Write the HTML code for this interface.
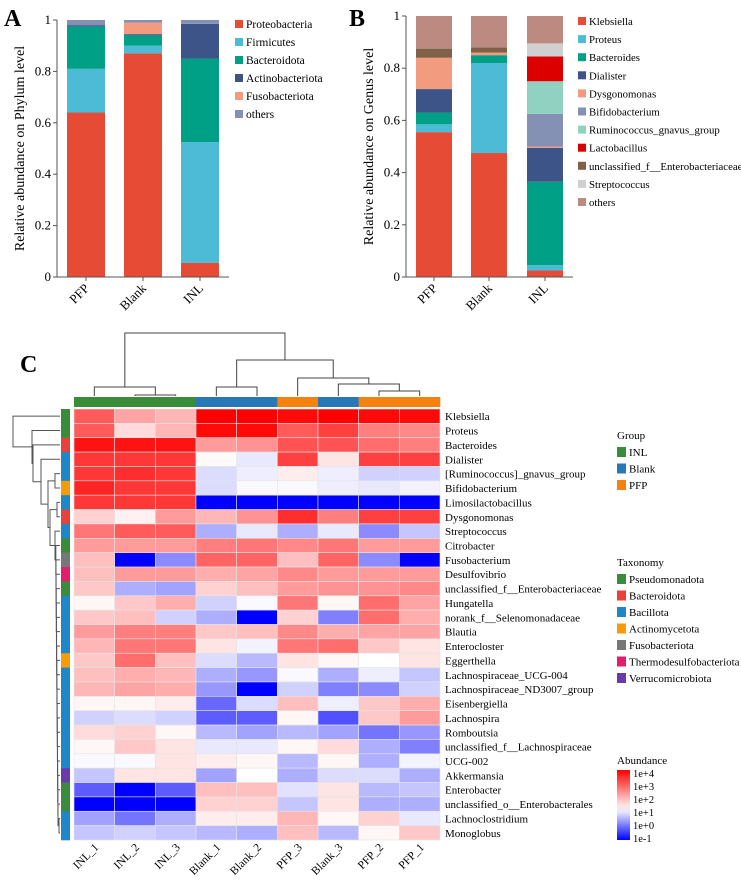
<!DOCTYPE html>
<html><head><meta charset="utf-8">
<style>
body{margin:0;background:#fff;}
svg{display:block;font-family:"Liberation Serif",serif;}
</style></head>
<body>
<svg id="s" width="741" height="882" viewBox="0 0 741 882" xmlns="http://www.w3.org/2000/svg"></svg>
<script>
// ---------- Chart A data ----------
const aGroups=["PFP","Blank","INL"];
const aTaxa=["Proteobacteria","Firmicutes","Bacteroidota","Actinobacteriota","Fusobacteriota","others"];
const aPFP=[0.64,0.17,0.165,0.005,0,0.02];
const aBlank=[0.87,0.03,0.04,0.005,0.045,0.01];
const aINL=[0.055,0.47,0.325,0.135,0,0.015];
const aColors=["#e64b35","#4dbbd5","#00a087","#3c5488","#f39b7f","#8491b4"];
// ---------- Chart B data ----------
const bTaxa=["Klebsiella","Proteus","Bacteroides","Dialister","Dysgonomonas","Bifidobacterium","Ruminococcus_gnavus_group","Lactobacillus","unclassified_f__Enterobacteriaceae","Streptococcus","others"];
const bPFP=[0.555,0.03,0.045,0.09,0.12,0,0,0,0.035,0,0.125];
const bBlank=[0.475,0.345,0.03,0,0.01,0,0,0,0.02,0,0.12];
const bINL=[0.025,0.02,0.32,0.13,0.005,0.125,0.125,0.095,0,0.05,0.105];
const bColors=["#e64b35","#4dbbd5","#00a087","#3c5488","#f39b7f","#8491b4","#91d1c2","#dc0000","#7e6148","#d0d0d0","#bc8a80"];
const yTicks=[0,0.2,0.4,0.6,0.8,1];
const yTickLabels=["0","0.2","0.4","0.6","0.8","1"];
// ---------- Heatmap data (log10 abundance) ----------
const hCols=["INL_1","INL_2","INL_3","Blank_1","Blank_2","PFP_3","Blank_3","PFP_2","PFP_1"];
const hColGroup=["INL","INL","INL","Blank","Blank","PFP","Blank","PFP","PFP"];
const hRows=["Klebsiella","Proteus","Bacteroides","Dialister","[Ruminococcus]_gnavus_group","Bifidobacterium","Limosilactobacillus","Dysgonomonas","Streptococcus","Citrobacter","Fusobacterium","Desulfovibrio","unclassified_f__Enterobacteriaceae","Hungatella","norank_f__Selenomonadaceae","Blautia","Enterocloster","Eggerthella","Lachnospiraceae_UCG-004","Lachnospiraceae_ND3007_group","Eisenbergiella","Lachnospira","Romboutsia","unclassified_f__Lachnospiraceae","UCG-002","Akkermansia","Enterobacter","unclassified_o__Enterobacterales","Lachnoclostridium","Monoglobus"];
const hRowTax=["Pseudomonadota","Pseudomonadota","Bacteroidota","Bacillota","Bacillota","Actinomycetota","Bacillota","Bacteroidota","Bacillota","Pseudomonadota","Fusobacteriota","Thermodesulfobacteriota","Pseudomonadota","Bacillota","Bacillota","Bacillota","Bacillota","Actinomycetota","Bacillota","Bacillota","Bacillota","Bacillota","Bacillota","Bacillota","Bacillota","Verrucomicrobiota","Pseudomonadota","Pseudomonadota","Bacillota","Bacillota"];
const hVals=[
[3.0,2.2,2.0,4,4,3.9,4,3.9,3.9],
[3.0,1.6,2.0,3.9,3.9,3.0,3.3,2.6,2.5],
[3.8,3.8,3.8,2.3,2.4,3.1,3.1,2.8,2.6],
[3.4,3.4,3.4,1.25,1.0,3.3,1.5,3.3,3.3],
[3.4,3.5,3.4,0.9,1.05,1.4,1.05,0.8,0.8],
[3.6,3.4,3.4,0.9,1.15,1.15,1.05,1.0,1.1],
[3.4,3.4,3.4,-1,-1,-1,-1,-1,-1],
[1.7,1.35,2.3,2.0,2.4,3.5,2.6,3.3,3.3],
[2.7,3.0,3.0,0.5,1.0,0.5,1.0,0.2,0.7],
[2.3,2.3,2.3,2.6,2.7,2.5,2.7,2.3,2.3],
[1.9,-1,0.2,2.9,2.9,1.9,2.9,0.2,-1],
[1.9,2.3,2.3,2.1,2.2,2.5,2.3,2.3,2.3],
[1.8,0.5,0.4,1.7,1.9,2.3,2.4,2.4,2.5],
[1.3,1.8,2.1,0.8,1.15,2.7,1.3,2.8,2.2],
[1.8,1.9,0.8,0.5,-1,1.7,0.1,2.8,2.1],
[2.3,2.6,2.6,1.8,1.9,2.5,2.1,2.2,2.2],
[2.0,2.7,2.7,1.5,1.1,2.7,2.8,1.8,1.5],
[1.8,2.8,1.9,0.9,0.6,1.5,1.3,1.2,1.5],
[1.9,2.1,2.0,0.5,0.3,1.15,0.5,1.05,0.7],
[2.0,2.2,2.1,0.3,-1,0.8,0.1,0.2,0.8],
[1.3,1.3,1.4,-0.1,0.9,1.9,1.05,1.8,2.1],
[0.8,0.9,0.8,-0.2,-0.2,1.3,-0.3,1.8,2.3],
[1.6,1.7,1.3,0.6,0.4,0.6,0.4,0.0,0.3],
[1.3,1.8,1.5,1.0,1.0,1.3,1.6,0.5,0.1],
[1.15,1.15,1.5,1.4,1.3,0.6,1.3,0.5,1.1],
[0.7,1.5,1.5,0.4,1.2,0.5,0.9,0.9,0.5],
[-0.2,-1,-0.2,1.9,1.9,0.95,1.5,0.6,0.7],
[-1,-1,-1,1.7,1.7,0.7,1.5,0.5,0.5],
[0.4,0.0,0.5,1.4,1.4,2.0,1.3,1.7,1.0],
[0.7,0.8,0.7,0.6,0.5,1.9,0.6,1.3,1.8]];
const groupNames=["INL","Blank","PFP"];
const groupColors={INL:"#3a8b3a",Blank:"#2878b5",PFP:"#f5820f"};
const taxNames=["Pseudomonadota","Bacteroidota","Bacillota","Actinomycetota","Fusobacteriota","Thermodesulfobacteriota","Verrucomicrobiota"];
const taxColors={Pseudomonadota:"#3a8b3a",Bacteroidota:"#e8413c",Bacillota:"#1f86c8",Actinomycetota:"#f59c0a",Fusobacteriota:"#777777",Thermodesulfobacteriota:"#e0206a",Verrucomicrobiota:"#6a3aad"};
const cbLabels=["1e+4","1e+3","1e+2","1e+1","1e+0","1e-1"];
const cbVals=[4,3,2,1,0,-1];

const NS="http://www.w3.org/2000/svg";
const S=document.getElementById('s');
function mk(tag,attrs,parent,text){const e=document.createElementNS(NS,tag);for(const k in attrs)e.setAttribute(k,attrs[k]);if(text!==undefined)e.textContent=text;(parent||S).appendChild(e);return e;}

function stacked(cfg){
  const g=mk('g',{});
  
  
  const y=v=>cfg.y0-(cfg.y0-cfg.y1)*v;
  cfg.series.forEach((vals,gi)=>{
    let cum=0;const x=cfg.bx[gi];
    vals.forEach((v,ti)=>{
      if(v<=0){return;}
      const r=mk('rect',{x:x,y:y(cum+v),width:cfg.bw,height:y(cum)-y(cum+v),fill:cfg.colors[ti]},g);
      
      
      cum+=v;
    });
    const t=mk('text',{x:0,y:0,'font-size':13,'text-anchor':'end',transform:`translate(${x+cfg.bw/2+4},${cfg.y0+12}) rotate(-45)`},g,cfg.groups[gi]);
    
    
  });
  mk('line',{x1:cfg.ax,y1:cfg.y1,x2:cfg.ax,y2:cfg.y0,stroke:'#555','stroke-width':1},g);
  mk('line',{x1:cfg.ax,y1:cfg.y0,x2:cfg.bx[2]+cfg.bw+10,y2:cfg.y0,stroke:'#555','stroke-width':1},g);
  yTicks.forEach((v,i)=>{
    mk('line',{x1:cfg.ax-4,y1:y(v),x2:cfg.ax,y2:y(v),stroke:'#555'},g);
    const t=mk('text',{x:cfg.ax-6,y:y(v)+4,'font-size':13,'text-anchor':'end'},g,yTickLabels[i]);
    
    
  });
  cfg.groups.forEach((n,i)=>mk('line',{x1:cfg.bx[i]+cfg.bw/2,y1:cfg.y0,x2:cfg.bx[i]+cfg.bw/2,y2:cfg.y0+4,stroke:'#555'},g));
  const yt=mk('text',{x:0,y:0,'font-size':14,'text-anchor':'middle',transform:`translate(${cfg.ax-33},${(cfg.y0+cfg.y1)/2}) rotate(-90)`},g,cfg.ytitle);
  
  
  cfg.taxa.forEach((n,i)=>{
    const le=mk('g',{},g);
    
    
    mk('rect',{x:cfg.lx,y:cfg.ly+i*cfg.ls-5,width:8,height:8,fill:cfg.colors[i]},le);
    mk('text',{x:cfg.lx+11,y:cfg.ly+i*cfg.ls+3,'font-size':cfg.lf},le,n);
  });
}
stacked({name:'chart-a-phylum',groups:aGroups,series:[aPFP,aBlank,aINL],colors:aColors,taxa:aTaxa,ax:57,y0:277,y1:20,bx:[67,124,181],bw:38,lx:235,ly:25,ls:18,lf:11.5,ytitle:'Relative abundance on Phylum level'});
stacked({name:'chart-b-genus',groups:aGroups,series:[bPFP,bBlank,bINL],colors:bColors,taxa:bTaxa,ax:406,y0:277,y1:16,bx:[416,471,527],bw:36,lx:578,ly:22,ls:18.1,lf:10.8,ytitle:'Relative abundance on Genus level'});
[['A',4,26],['B',349,26],['C',20,372]].forEach(([t,x,y])=>{const e=mk('text',{x:x,y:y,'font-size':24,'font-weight':'bold'},S,t);});

// ---------- Heatmap ----------
const hx0=74,hx1=440,hy0=409,hy1=840;
const cw=(hx1-hx0)/hCols.length, rh=(hy1-hy0)/hRows.length;
function col(v){const c=1.2;let t;
  if(v>=c){t=Math.min((v-c)/(4-c),1);return `rgb(255,${Math.round(255*(1-t))},${Math.round(255*(1-t))})`;}
  t=Math.min((c-v)/(c+1),1);return `rgb(${Math.round(255*(1-t))},${Math.round(255*(1-t))},255)`;}
const hg=mk('g',{});


hVals.forEach((row,ri)=>{row.forEach((v,ci)=>{
  const r=mk('rect',{x:hx0+ci*cw,y:hy0+ri*rh,width:cw,height:rh,fill:col(v),stroke:'#e4e4e4','stroke-width':0.6},hg);
  
  
});
  const t=mk('text',{x:hx1+5,y:hy0+ri*rh+rh/2+4,'font-size':11},hg,hRows[ri]);
  
  
  const sc=mk('rect',{x:61,y:hy0+ri*rh,width:9,height:rh+0.3,fill:taxColors[hRowTax[ri]]},hg);
  
  
});
hCols.forEach((c,ci)=>{
  const a=mk('rect',{x:hx0+ci*cw,y:397,width:cw+0.3,height:10,fill:groupColors[hColGroup[ci]]},hg);
  
  
  const t=mk('text',{x:0,y:0,'font-size':11.5,'text-anchor':'end',transform:`translate(${hx0+ci*cw+cw/2+5},${hy1+8}) rotate(-45)`},hg,c);
  
  
});
const cx=i=>hx0+cw*(i+0.5);
const dg=mk('g',{stroke:'#444','stroke-width':1,fill:'none'});


function br(xa,ya,xb,yb,top){mk('path',{d:`M${xa},${ya}V${top}H${xb}V${yb}`},dg);}
br(cx(1),396,cx(2),396,395);
br(cx(0),396,(cx(1)+cx(2))/2,395,387);
br(cx(7),396,cx(8),396,391);
br(cx(6),396,(cx(7)+cx(8))/2,391,384);
br(cx(3),396,cx(4),396,387);
const r1=(cx(6)+(cx(7)+cx(8))/2)/2;
br(cx(5),396,r1,384,378);
const r2=(cx(5)+r1)/2;
const bl=(cx(3)+cx(4))/2;
br(bl,387,r2,378,360);
const inl=(cx(0)+(cx(1)+cx(2))/2)/2;
br(inl,387,(bl+r2)/2,360,333);
const rg=mk('g',{stroke:'#555','stroke-width':1,fill:'none'});


const ry=i=>hy0+rh*(i+0.5);
function rb(ya,xa,yb,xb,left){mk('path',{d:`M${xa},${ya}H${left}V${yb}H${xb}`},rg);}
let curY=(ry(28)+ry(29))/2, curX=59;
rb(ry(28),60,ry(29),60,59);
for(let i=27;i>=9;i--){const nx=58-(27-i)*0.12;rb(ry(i),60,curY,curX,nx);curY=(ry(i)+curY)/2;curX=nx;}
rb(ry(6),60,ry(7),60,57);
let y67=(ry(6)+ry(7))/2;
rb(ry(8),60,curY,curX,55);curY=(ry(8)+curY)/2;curX=55;
rb(y67,57,curY,curX,50);curY=(y67+curY)/2;curX=50;
rb(ry(4),60,ry(5),60,55);let y45=(ry(4)+ry(5))/2;
rb(y45,55,curY,curX,48);curY=(y45+curY)/2;curX=48;
rb(ry(3),60,curY,curX,41);curY=(ry(3)+curY)/2;curX=41;
rb(ry(2),60,curY,curX,33);curY=(ry(2)+curY)/2;curX=33;
rb(ry(1),60,curY,curX,32);curY=(ry(1)+curY)/2;curX=32;
rb(ry(0),60,curY,curX,13);
function lg(title,names,colors,y0,step,name){
  const g=mk('g',{});
  
  
  mk('text',{x:617,y:y0,'font-size':11},g,title);
  names.forEach((n,i)=>{
    const e=mk('g',{},g);
    
    
    mk('rect',{x:617,y:y0+8+i*step,width:9,height:10,fill:colors[n]},e);
    mk('text',{x:629,y:y0+17+i*step,'font-size':11},e,n);
  });
}
lg('Group',groupNames,groupColors,439,16.5,'group-legend');
lg('Taxonomy',taxNames,taxColors,566,16.5,'taxonomy-legend');
const cb=mk('g',{});


mk('text',{x:617,y:764,'font-size':11},cb,'Abundance');
const defs=mk('defs',{},cb);
const lgd=mk('linearGradient',{id:'cbg',x1:0,y1:0,x2:0,y2:1},defs);
for(let k=0;k<=10;k++){const v=4-k*0.5;mk('stop',{offset:k/10,'stop-color':col(v)},lgd);}
mk('rect',{x:617,y:770,width:13,height:70,fill:'url(#cbg)'},cb);
cbVals.forEach((v,i)=>{const yy=773+13*(4-v);mk('text',{x:633,y:yy+4,'font-size':10.5},cb,cbLabels[i]);});
</script>
</body></html>
